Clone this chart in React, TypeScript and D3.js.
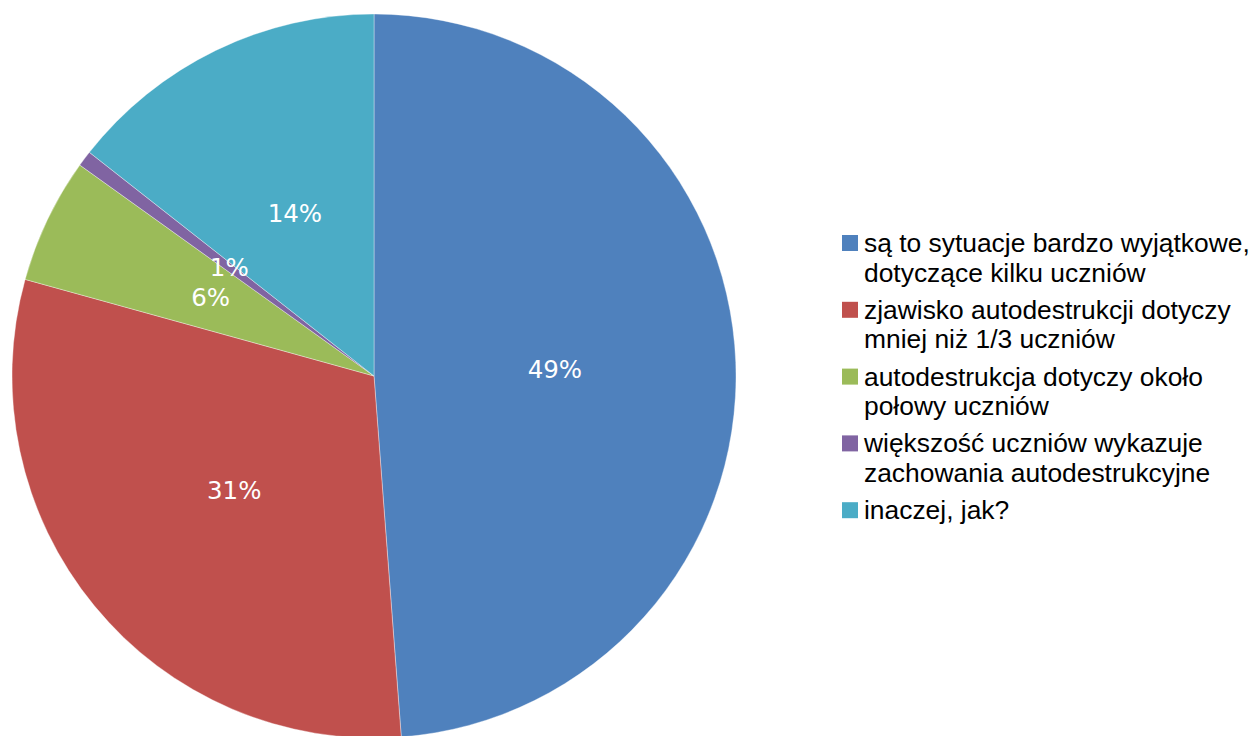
import React from "react";
import * as d3 from "d3";

const categories = [
  "są to sytuacje bardzo wyjątkowe, dotyczące kilku uczniów",
  "zjawisko autodestrukcji dotyczy mniej niż 1/3 uczniów",
  "autodestrukcja dotyczy około połowy uczniów",
  "większość uczniów wykazuje zachowania autodestrukcyjne",
  "inaczej, jak?",
];
const legendLines = [
  ["są to sytuacje bardzo wyjątkowe,", "dotyczące kilku uczniów"],
  ["zjawisko autodestrukcji dotyczy", "mniej niż 1/3 uczniów"],
  ["autodestrukcja dotyczy około", "połowy uczniów"],
  ["większość uczniów wykazuje", "zachowania autodestrukcyjne"],
  ["inaczej, jak?"],
];
const values = [48.8, 30.5, 5.6, 0.7, 14.4];
const pctLabels = ["49%", "31%", "6%", "1%", "14%"];
const colors = ["#4F81BD", "#C0504D", "#9BBB59", "#8064A2", "#4BACC6"];

const W = 1254;
const H = 736;
const CX = 374;
const CY = 376;
const R = 362;

export default function App() {
  const pie = d3
    .pie<number>()
    .sort(null)
    .value((d) => d)(values);
  const arc = d3.arc<d3.PieArcDatum<number>>().innerRadius(0).outerRadius(R);
  const labelArc = d3
    .arc<d3.PieArcDatum<number>>()
    .innerRadius(R / 2)
    .outerRadius(R / 2);

  const legendX = 842;
  const legendY0 = 235;
  const itemPitch = 66.8;
  const linePitch = 29.5;

  return (
    <svg
      width={W}
      height={H}
      style={{ position: "absolute", left: 0, top: 0, background: "#fff" }}
    >
      <g transform={`translate(${CX},${CY})`}>
        {pie.map((p, i) => (
          <path
            key={categories[i]}
            d={arc(p) || ""}
            fill={colors[i]}
            stroke="#ffffff"
            strokeWidth={0.6}
            strokeOpacity={0.6}
          />
        ))}
        {pie.map((p, i) => {
          const [x, y] = labelArc.centroid(p);
          return (
            <text
              key={"l" + i}
              x={x}
              y={y}
              textAnchor="middle"
              dominantBaseline="central"
              fill="#ffffff"
              fontFamily="'DejaVu Sans', sans-serif"
              fontSize={24.5}
            >
              {pctLabels[i]}
            </text>
          );
        })}
      </g>
      <g>
        {legendLines.map((lines, i) => {
          const top = legendY0 + i * itemPitch;
          return (
            <g key={"lg" + i}>
              <rect x={legendX} y={top} width={16} height={16} fill={colors[i]} />
              {lines.map((ln, j) => (
                <text
                  key={j}
                  x={legendX + 22}
                  y={top + 17 + j * linePitch}
                  fill="#000"
                  fontFamily="'Liberation Sans', Arial, sans-serif"
                  fontSize={26.4}
                >
                  {ln}
                </text>
              ))}
            </g>
          );
        })}
      </g>
    </svg>
  );
}
